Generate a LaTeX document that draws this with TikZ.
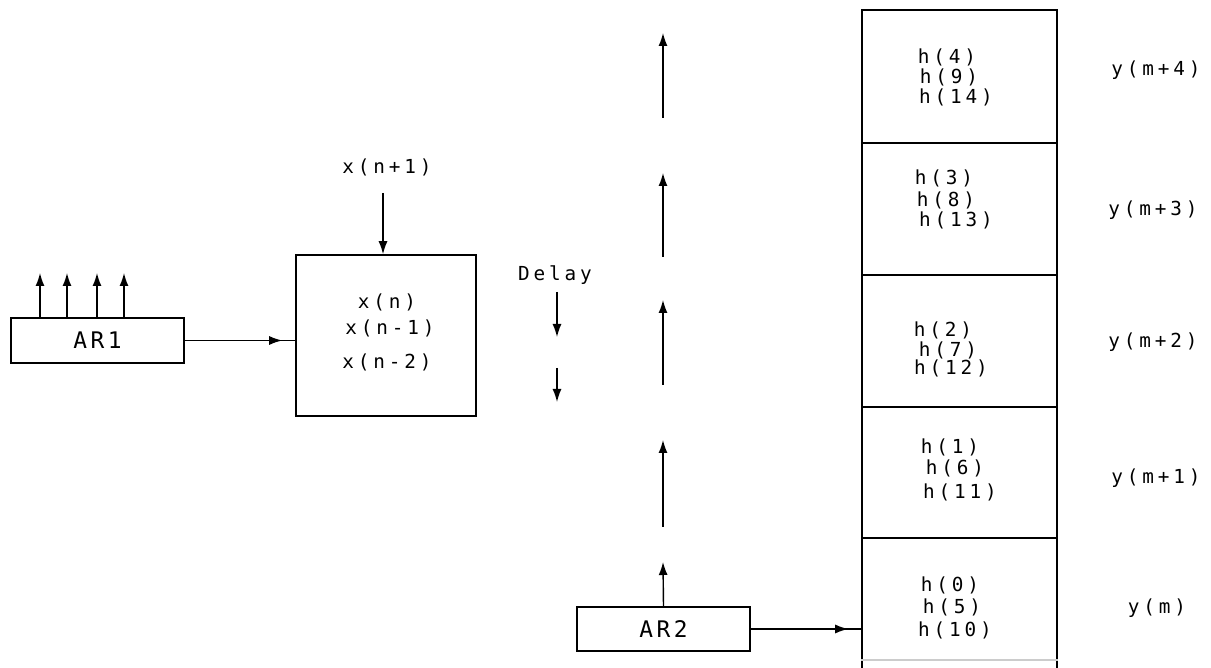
\documentclass[tikz,border=0pt]{standalone}
\usepackage{fontspec}
\usetikzlibrary{arrows.meta}
\newfontfamily\cadfont[LetterSpace=20]{DejaVu Sans Mono}
\newfontfamily\cadbig[LetterSpace=15]{DejaVu Sans Mono}

\begin{document}
\begin{tikzpicture}[x=0.02cm,y=-0.02cm,>={Latex[length=2.6mm,width=1.8mm]},
  font=\cadfont\fontsize{11}{13}\selectfont,
  box/.style={draw,line width=0.9pt,inner sep=0pt},
  big/.style={font=\cadbig\fontsize{13}{15}\selectfont},
  cell/.style={box,minimum width=3.9cm},
  sig/.style={->,line width=0.8pt}]
\useasboundingbox (0,0) rectangle (1211,668);
\node[box,big,minimum width=3.46cm,minimum height=0.9cm] (AR1) at (97.5,340.5) {AR1};
\node[box,minimum width=3.6cm,minimum height=3.22cm] (X) at (386,335.5) {};
\node[box,big,minimum width=3.46cm,minimum height=0.88cm] (AR2) at (663.5,629) {AR2};
\foreach \n/\c/\h in {C4/76.5/2.66,C3/209/2.64,C2/341/2.64,C1/472.5/2.62,C0/605/2.68}
  \node[cell,minimum height=\h cm] (\n) at (959.5,\c) {};
\draw[gray!40,line width=0.6pt] (C0.west |- 0,660) -- (C0.east |- 0,660);
\foreach \x in {40,67,97,124} {\coordinate (u\x) at (\x,273); \draw[sig] (u\x |- AR1.north) -- (u\x);}
\draw[line width=0.8pt] (AR1.east) -- (AR1.east -| X.west);
\draw[sig,shorten >=0.26cm] (AR1.east) -- (AR1.east -| X.west);
\node (xin) at (387,167) {x(n+1)};
\coordinate (x0) at (383,193);
\draw[sig] (x0) -- (x0 |- X.north);
\foreach \t/\x/\y in {x(n)/387/302,x(n-1)/390/328,x(n-2)/387/362} \node at (\x,\y) {\t};
\node (dl) at (555,275) {Delay};
\coordinate (d1) at (557,292); \coordinate (e1) at (557,337);
\coordinate (d2) at (557,368); \coordinate (e2) at (557,402);
\draw[sig] (d1) -- (e1); \draw[sig] (d2) -- (e2);
\foreach \i/\a/\b in {1/118/33,2/257/173,3/385/300,4/527/440} {
  \coordinate (s\i) at (663,\a); \coordinate (t\i) at (663,\b); \draw[sig] (s\i) -- (t\i);}
\coordinate (t5) at (663,562);
\draw[sig] (AR2.north) -- (t5);
\draw[line width=0.8pt] (AR2.east) -- (AR2.east -| C0.west);
\draw[sig,shorten >=0.26cm] (AR2.east) -- (AR2.east -| C0.west);
\foreach \t/\x/\y in {h(4)/947/57,h(9)/949/77,h(14)/956/97,
  h(3)/944/178,h(8)/946/200,h(13)/956/220,
  h(2)/943/330,h(7)/948/350,h(12)/951/368,
  h(1)/950/447,h(6)/955/468,h(11)/960/492,
  h(0)/950/585,h(5)/952/607,h(10)/955/630} \node at (\x,\y) {\t};
\foreach \t/\x/\y in {y(m+4)/1156/70,y(m+3)/1153/210,y(m+2)/1153/342,y(m+1)/1156/478,y(m)/1157/608}
  \node at (\x,\y) {\t};
\end{tikzpicture}
\end{document}
